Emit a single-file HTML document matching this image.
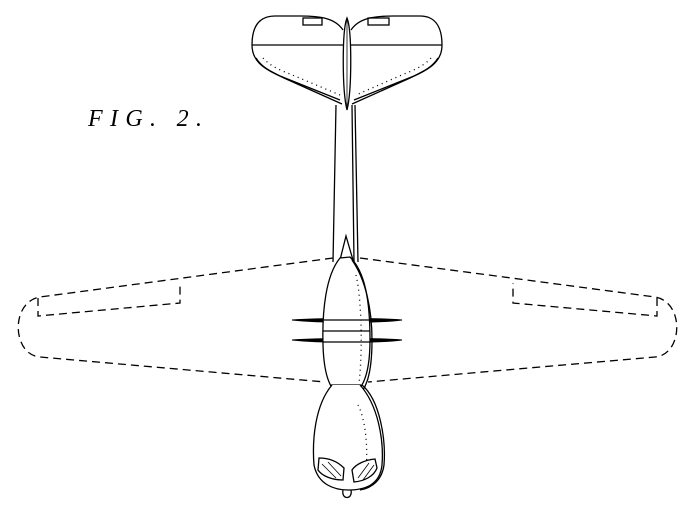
<!DOCTYPE html>
<html><head><style>body{margin:0;background:#fff}svg{display:block}</style></head><body>
<svg width="700" height="520" viewBox="0 0 700 520" xmlns="http://www.w3.org/2000/svg" fill="none" stroke="#000" stroke-width="1.3">
<text x="88" y="126" font-family="Liberation Serif, serif" font-style="italic" font-size="24" fill="#000" stroke="none" letter-spacing="4" textLength="118">FIG. 2.</text>
<!-- boom -->
<path d="M336 105 L333 262 M355 105 L358 262 M352 105 L354 262"/>
<!-- tail -->
<path d="M343 30 C335 18 320 16 300 16 L275 16 C258 16 252 28 252 45 C252 60 262 68 280 76 L340 100"/>
<path d="M351 30 C359 18 374 16 394 16 L420 16 C436 16 442 28 442 45 C442 60 432 68 414 76 L354 100"/>
<path d="M256 58 C262 68 272 72 284 78 L342 104 M438 58 C432 68 422 72 410 78 L352 104"/>
<line x1="252" y1="45" x2="442" y2="45"/>
<path d="M263 58 C270 66 280 70 290 74 L340 95 M431 58 C424 66 414 70 404 74 L356 95" stroke-dasharray="1 4"/>
<rect x="303" y="18" width="19" height="7"/><rect x="368" y="18" width="21" height="7"/>
<path d="M347 18 C352 30 352 90 347 110 C342 90 342 30 347 18 Z" fill="#fff"/>
<line x1="347" y1="20" x2="347" y2="108" stroke-width="0.8"/>
<!-- wings -->
<g stroke-dasharray="8 5">
<path d="M333 258 L40 297 C10 302 12 355 40 357 L325 382"/>
<path d="M360 258 L655 297 C685 302 683 355 655 357 L368 382"/>
<path d="M38 298 L38 316 L180 303 L180 283 M657 298 L657 316 L513 303 L513 283"/>
</g>
<!-- discs -->
<path d="M292 320 C320 318 380 318 402 320 C380 323 320 323 292 320 Z M292 340 C320 338 380 338 402 340 C380 343 320 343 292 340 Z" fill="#000" stroke-width="1"/>
<!-- pod -->
<path d="M346 236 L353 260 L340 260 Z" fill="#fff"/>
<path d="M340 258 C326 275 322 310 323 345 C324 380 332 395 345 397 C360 395 370 380 370 340 C370 300 365 272 350 257 Z" fill="#fff"/>
<path d="M352 260 C366 280 372 310 372 340 C372 375 366 390 356 398" />
<path d="M356 275 C362 300 363 360 358 390" stroke-dasharray="1 4"/>
<line x1="324" y1="320" x2="370" y2="320"/><line x1="323" y1="331" x2="370" y2="331"/><line x1="323" y1="342" x2="370" y2="342"/>
<path d="M332 385 L360 385 L350 398 L340 398 Z" fill="#555"/>
<!-- bulb -->
<path d="M332 385 C315 405 312 440 314 465 C318 485 335 490 348 490 C365 490 380 485 382 465 C384 440 378 405 360 385" fill="#fff"/>
<path d="M362 385 C380 400 386 440 384 465 C382 480 372 488 360 490"/>
<path d="M358 405 C366 420 368 450 366 470" stroke-dasharray="1 4"/>
<path d="M319 458 C330 458 338 462 344 468 L343 480 C332 480 322 476 318 470 Z M375 459 C365 460 356 464 352 470 L354 482 C365 481 374 476 377 468 Z" fill="#fff"/>
<path d="M322 464 L336 478 M328 462 L341 476 M369 463 L358 478 M374 465 L363 480" stroke-width="0.8"/>
<path d="M343 490 C341 500 353 500 351 490"/>
</svg>
</body></html>
